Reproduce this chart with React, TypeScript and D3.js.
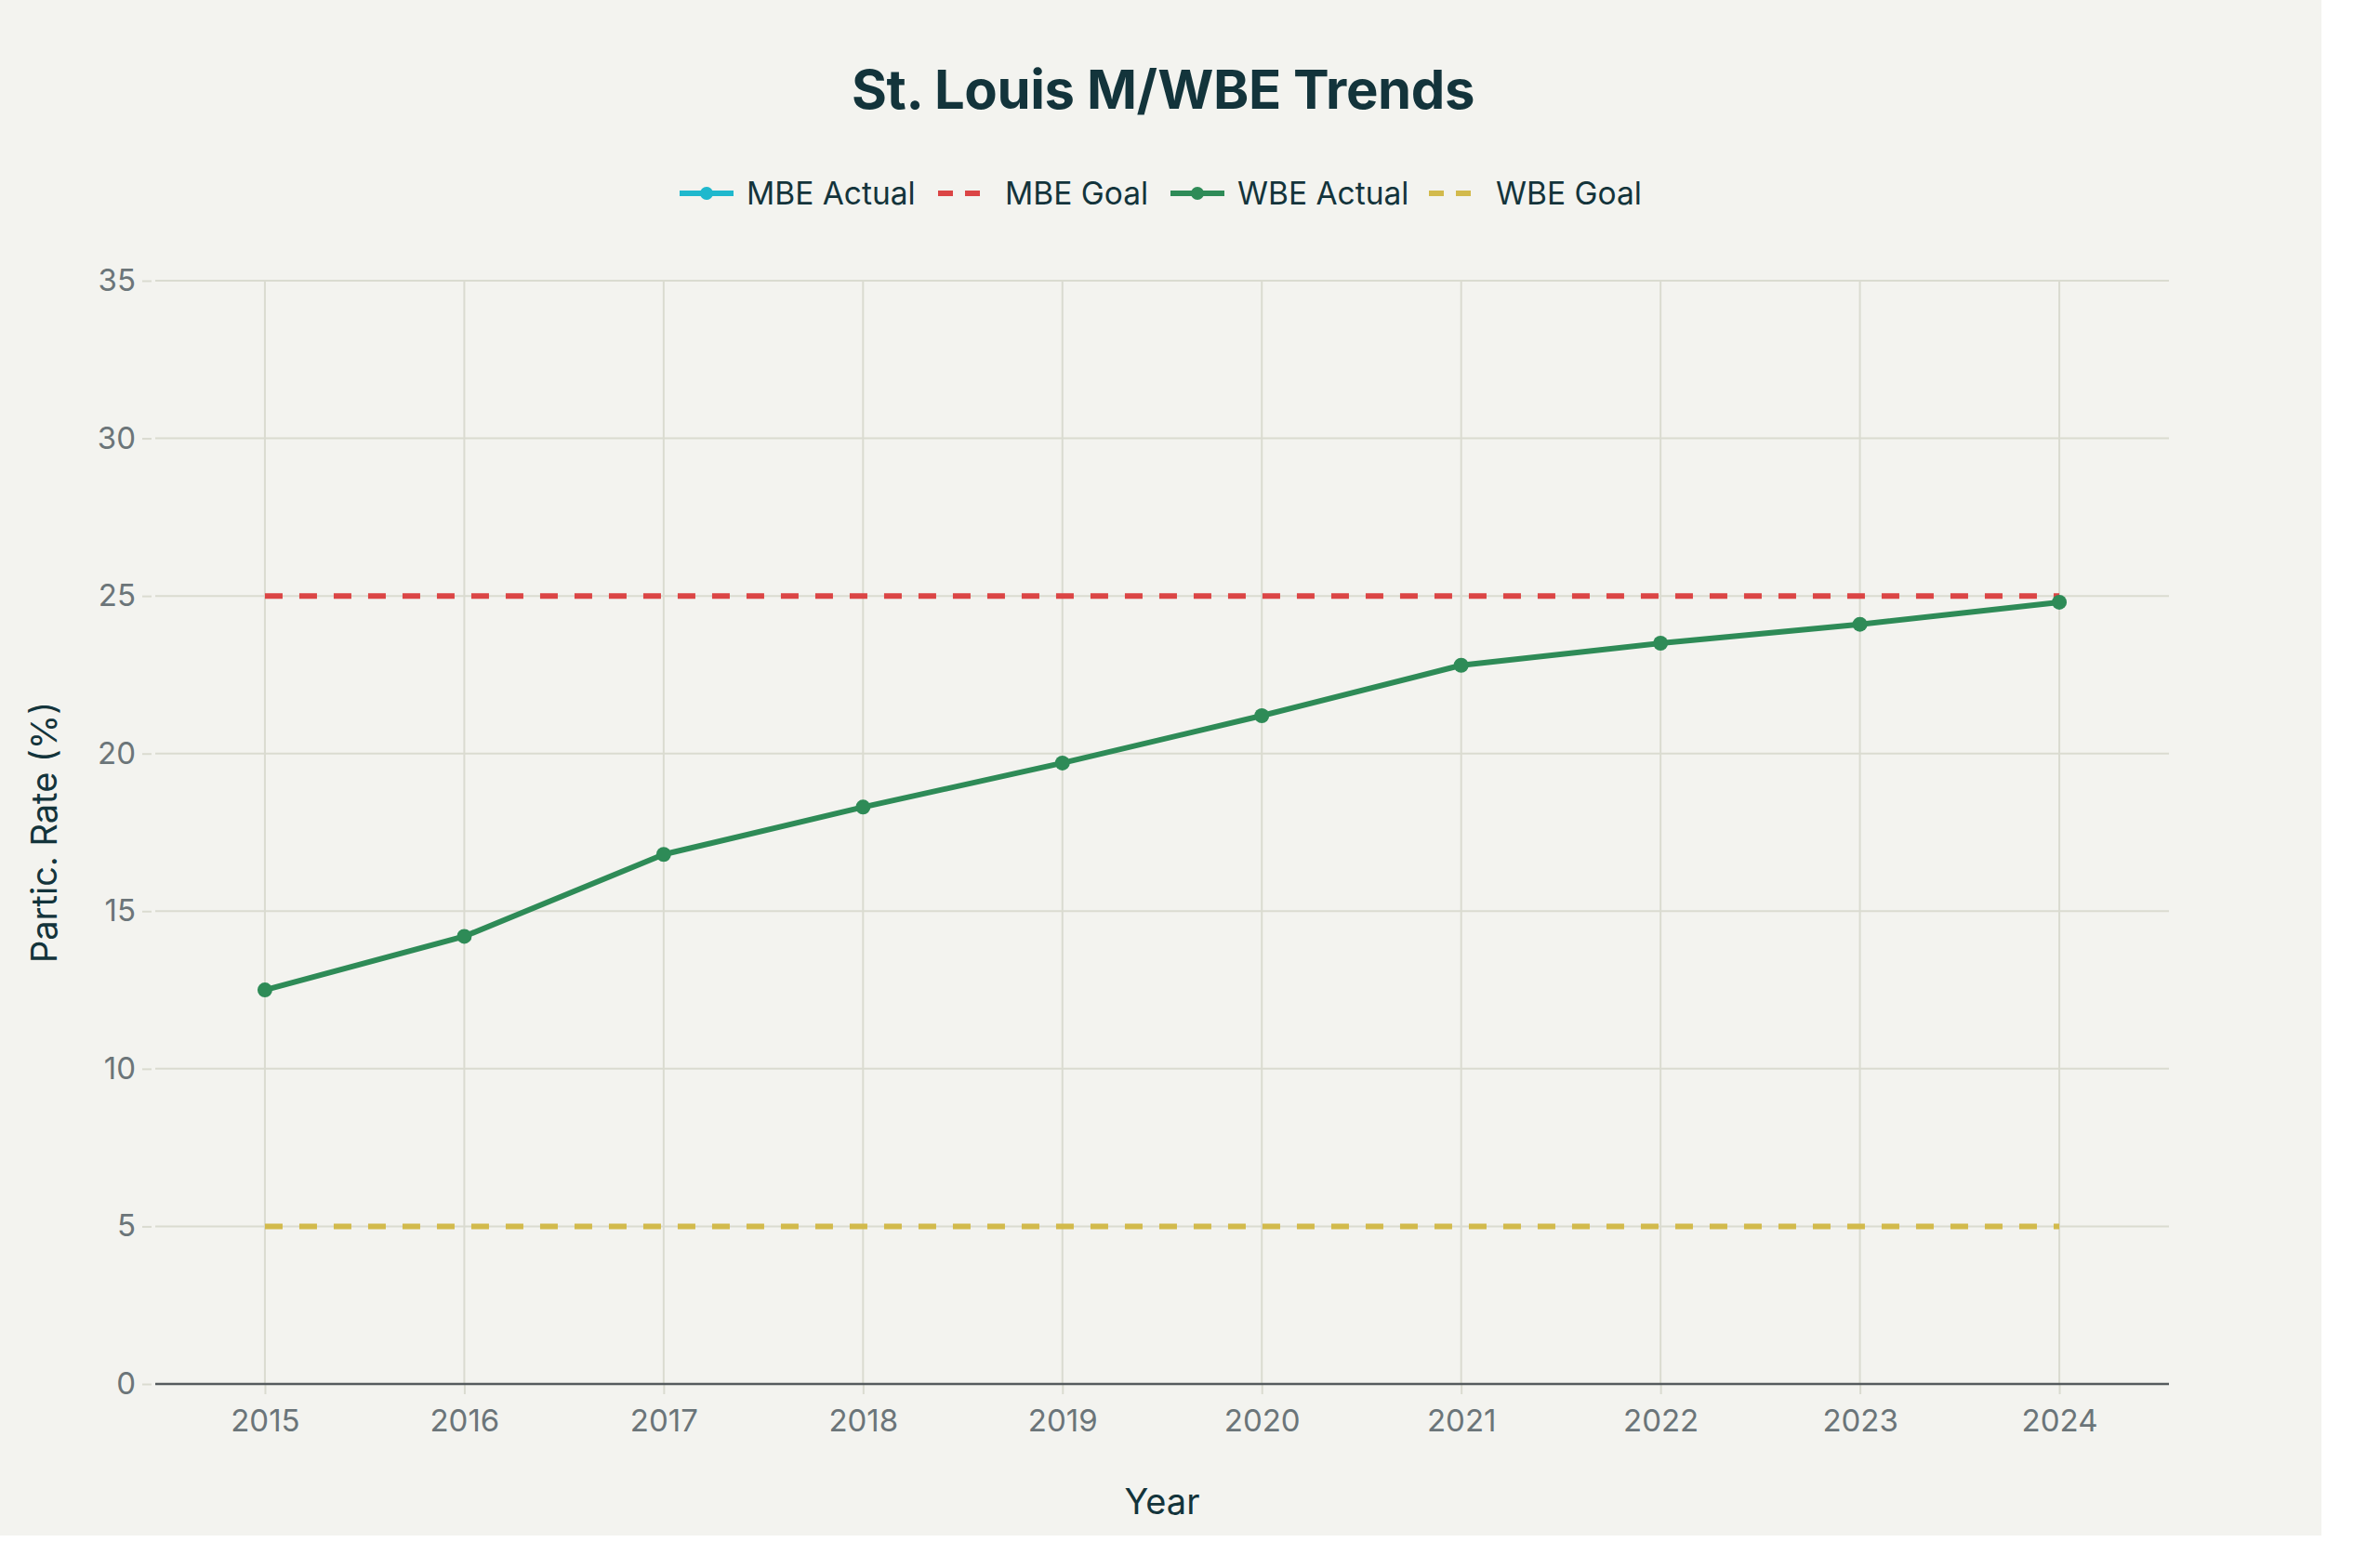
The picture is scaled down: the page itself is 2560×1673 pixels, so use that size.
import * as React from "react";
import { useEffect, useRef } from "react";
import { axisBottom, axisLeft, line, scaleLinear, select } from "d3";

const years = [2015, 2016, 2017, 2018, 2019, 2020, 2021, 2022, 2023, 2024];
// MBE actual is in the legend but no points are drawn in the source chart
const mbeActual: (number | null)[] = [null, null, null, null, null, null, null, null, null, null];
const mbeGoal = [25, 25, 25, 25, 25, 25, 25, 25, 25, 25];
const wbeActual = [12.5, 14.2, 16.8, 18.3, 19.7, 21.2, 22.8, 23.5, 24.1, 24.8];
const wbeGoal = [5, 5, 5, 5, 5, 5, 5, 5, 5, 5];
const yTicks = [0, 5, 10, 15, 20, 25, 30, 35];

const FONT = "Inter, 'Noto Sans', sans-serif";
const BG = "#f3f3ef";
const DARK = "#13343b";
const TICK = "#6b7579";
const GRID = "#dadbd0";

const series = [
  { name: "MBE Actual", values: mbeActual, color: "#1fb8cd", dash: null, markers: true },
  { name: "MBE Goal", values: mbeGoal, color: "#db4545", dash: "19,18", markers: false },
  { name: "WBE Actual", values: wbeActual, color: "#2e8b57", dash: null, markers: true },
  { name: "WBE Goal", values: wbeGoal, color: "#d2ba4c", dash: "19,18", markers: false },
];

const legendX = [731, 1009, 1259, 1537];

function AxisBottom({ scale, y }) {
  const ref = useRef<SVGGElement>(null);
  useEffect(() => {
    if (!ref.current) return;
    const g = select(ref.current);
    g.call(axisBottom(scale).tickValues(years).tickFormat((d) => String(d)).tickSize(11).tickPadding(17));
    g.select(".domain").remove();
    g.selectAll(".tick line").attr("stroke", GRID).attr("stroke-width", 2);
    g.selectAll(".tick text").attr("fill", TICK).attr("font-size", 33).attr("font-family", FONT);
  }, [scale]);
  return <g ref={ref} transform={`translate(0,${y})`} />;
}

function AxisLeft({ scale, x }) {
  const ref = useRef<SVGGElement>(null);
  useEffect(() => {
    if (!ref.current) return;
    const g = select(ref.current);
    g.call(axisLeft(scale).tickValues(yTicks).tickSize(10).tickPadding(8));
    g.select(".domain").remove();
    g.selectAll(".tick line").attr("stroke", GRID).attr("stroke-width", 2).attr("x1", -4).attr("x2", -14);
    g.selectAll(".tick text").attr("fill", TICK).attr("font-size", 33).attr("font-family", FONT).attr("x", -21);
  }, [scale]);
  return <g ref={ref} transform={`translate(${x},0)`} />;
}

export default function App() {
  const left = 167;
  const right = 2333;
  const top = 302;
  const bottom = 1489;

  const x = scaleLinear().domain([2014.45, 2024.55]).range([left, right]);
  const y = scaleLinear().domain([0, 35]).range([bottom, top]);

  const path = line<number | null>()
    .defined((d) => d !== null)
    .x((_, i) => x(years[i]))
    .y((d) => y(d as number));

  return (
    <div style={{ position: "absolute", left: 0, top: 0, width: 2560, height: 1673, background: "#fff" }}>
      <svg width={2560} height={1673} style={{ display: "block" }}>
        <rect x={0} y={0} width={2497} height={1652} fill={BG} />

        <text x={1251} y={117} textAnchor="middle" fill={DARK} fontFamily={FONT} fontWeight={700} fontSize={58} letterSpacing={-0.4}>
          St. Louis M/WBE Trends
        </text>

        {series.map((s, i) => (
          <g key={s.name} transform={`translate(${legendX[i]},208)`}>
            <line x1={0} x2={58} y1={0} y2={0} stroke={s.color} strokeWidth={6} strokeDasharray={s.dash ? "16,13" : undefined} />
            {s.markers && <circle cx={29} cy={0} r={7} fill={s.color} />}
            <text x={72} y={12} fill={DARK} fontFamily={FONT} fontSize={33.5}>
              {s.name}
            </text>
          </g>
        ))}

        {yTicks.map((t) => (
          <line key={`gy-${t}`} x1={left} x2={right} y1={y(t)} y2={y(t)} stroke={GRID} strokeWidth={2} />
        ))}
        {years.map((yr) => (
          <line key={`gx-${yr}`} x1={x(yr)} x2={x(yr)} y1={top} y2={bottom} stroke={GRID} strokeWidth={2} />
        ))}

        <AxisBottom scale={x} y={bottom} />
        <AxisLeft scale={y} x={left} />
        <line x1={left} x2={right} y1={bottom} y2={bottom} stroke="#555b5e" strokeWidth={2.5} />

        {series.map((s) => (
          <g key={`s-${s.name}`}>
            <path d={path(s.values) || ""} fill="none" stroke={s.color} strokeWidth={6} strokeDasharray={s.dash || undefined} strokeLinejoin="round" />
            {s.markers &&
              s.values.map((v, i) =>
                v === null ? null : <circle key={i} cx={x(years[i])} cy={y(v)} r={8} fill={s.color} />
              )}
          </g>
        ))}

        <text x={1250} y={1629} textAnchor="middle" fill={DARK} fontFamily={FONT} fontSize={38}>
          Year
        </text>
        <text transform={`translate(61,${(top + bottom) / 2}) rotate(-90)`} textAnchor="middle" fill={DARK} fontFamily={FONT} fontSize={38}>
          Partic. Rate (%)
        </text>
      </svg>
    </div>
  );
}
